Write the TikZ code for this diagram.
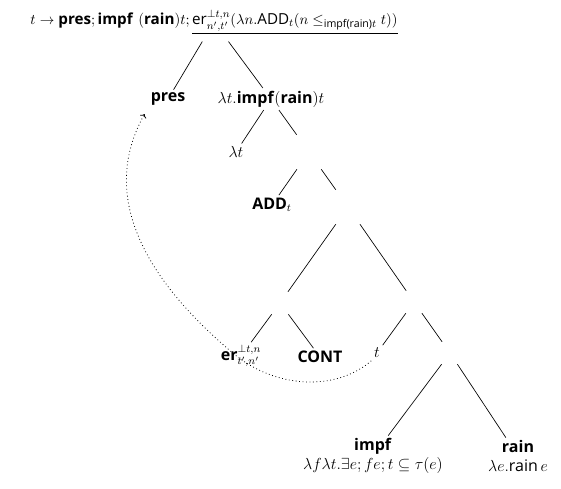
\documentclass[tikz,border=0pt]{standalone}
\usepackage{amsmath,amssymb}
\usepackage{fontspec}
\setsansfont{Open Sans}
\usetikzlibrary{arrows.meta}
\newcommand{\sfb}[1]{\textsf{\bfseries #1}}
\newcommand{\sfm}[1]{\textsf{#1}}

\begin{document}
\begin{tikzpicture}[
    x=0.75pt, y=-0.75pt,
    lbl/.style={font=\fontsize{12}{14}\selectfont, inner sep=2pt},
    joint/.style={inner sep=0pt, minimum width=22pt, minimum height=25.5pt},
    lowjoint/.style={inner sep=0pt, minimum width=18pt, minimum height=16.5pt},
    every edge/.style={draw, line width=0.5pt},
    move/.style={draw, dotted, line width=0.6pt, -{To[length=2.5pt]}, shorten >=5pt},
]
\useasboundingbox (0,0) rectangle (561,489);

% ---- root with its underlined content ----
\node[lbl, font=\fontsize{11.4}{14}\selectfont, outer sep=3.5pt] (root) at (214,22)
    {$t \to \text{\sfb{pres}}; \text{\sfb{impf} (\sfb{rain})}t;
      \underline{\text{\sfm{er}}^{\perp t,n}_{n',t'}(\lambda n.\text{\sfm{ADD}}_t(n \le_{\text{\sfm{impf(rain)}}t} t))}$};

% ---- upper part ----
\node[lbl] (pres) at (168,99) {\sfb{pres}};
\node[lbl] (lam) at (271,99) {$\lambda t.\text{\sfb{impf}}(\text{\sfb{rain}})t$};
\node[lbl] (lt) at (236,152) {$\lambda t$};
\node[joint] (j1) at (309,152) {};
\node[lbl] (add) at (272,205) {$\text{\sfb{ADD}}_t$};
\node[joint] (j2) at (348,207) {};

% ---- middle part ----
\node[lowjoint] (j3) at (280,303) {};
\node[lowjoint] (j4) at (414,302) {};
\node[lbl] (er) at (241,356) {$\text{\sfb{er}}^{\perp t,n}_{t',n'}$};
\node[lbl] (cont) at (320,357) {\sfb{CONT}};
\node[lbl] (tt) at (377,353) {$t$};
\node[lowjoint] (j5) at (450,353) {};

% ---- bottom leaves ----
\node[lbl, align=center] (impf) at (373,456)
    {\sfb{impf}\\ $\lambda f \lambda t.\exists e; fe; t \subseteq \tau(e)$};
\node[lbl, align=center] (rain) at (518,456)
    {\sfb{rain}\\ $\lambda e.\text{\sfm{rain}}\,e$};

% ---- branches ----
\draw (root) edge (pres) (root) edge (lam);
\draw (lam) edge (lt) (lam) edge (j1);
\draw (j1) edge (add) (j1) edge (j2);
\draw (j2) edge (j3) (j2) edge (j4);
\draw (j3) edge (er) (j3) edge (cont);
\draw (j4) edge (tt) (j4) edge (j5);
\draw (j5) edge (impf) (j5) edge (rain);

% ---- movement: t up to pres ----
\coordinate (via) at (234,354);
\draw[move] (tt.south west) .. controls (335,392) and (275,388) .. (via)
    .. controls (178,307) and (88,215) .. (pres.south west);

\end{tikzpicture}
\end{document}
